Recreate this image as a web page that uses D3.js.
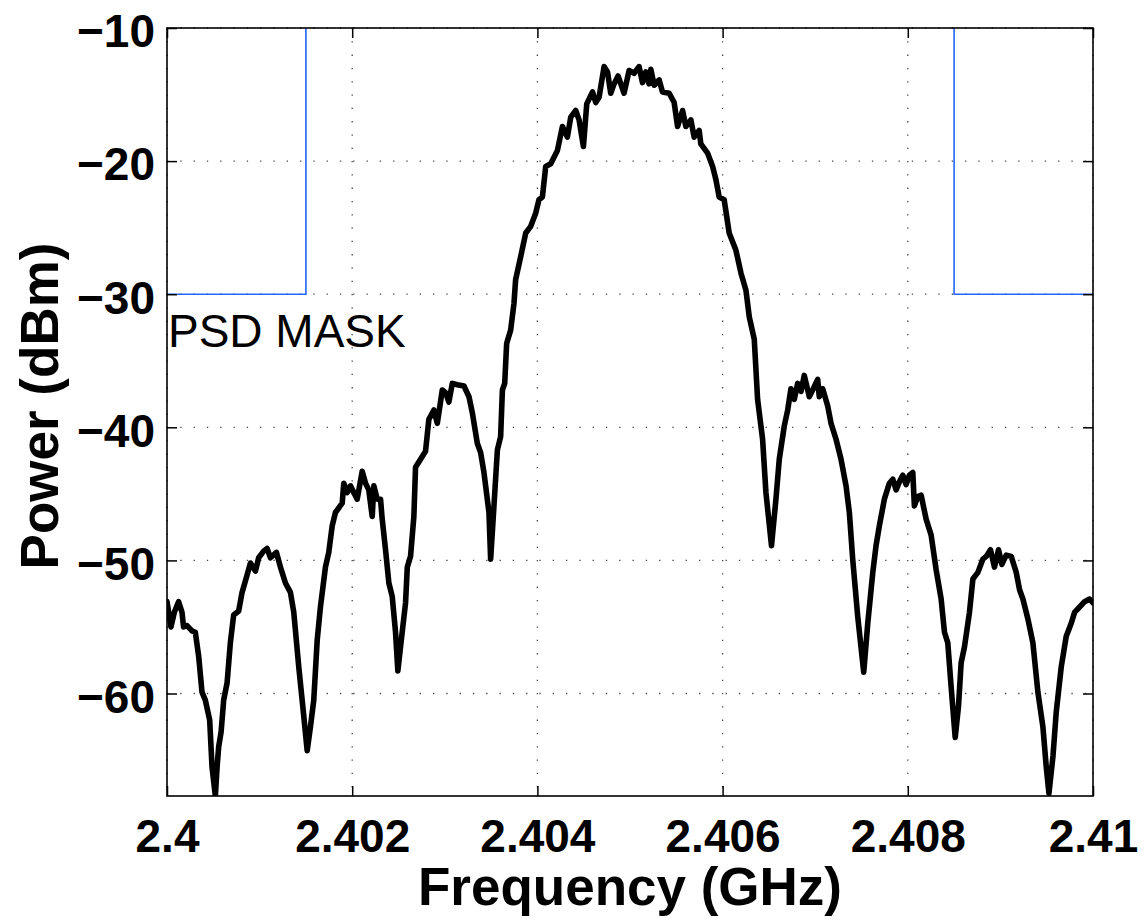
<!DOCTYPE html>
<html>
<head>
<meta charset="utf-8">
<script src="https://cdn.jsdelivr.net/npm/d3@7"></script>
<style>
  html, body { margin: 0; padding: 0; background: #fff; }
  svg { display: block; font-family: "Liberation Sans", Arial, Helvetica, sans-serif; }
</style>
</head>
<body>
<svg id="chart" width="1145" height="920"></svg>
<script>
// Measured power spectral density of the transmitted signal
const freqGHz = [
  2.400000, 2.400043, 2.400079, 2.400125, 2.400162, 2.400179, 2.400216, 2.400270, 2.400306, 2.400342,
  2.400378, 2.400414, 2.400461, 2.400486, 2.400522, 2.400541, 2.400558, 2.400584, 2.400612, 2.400649,
  2.400684, 2.400720, 2.400774, 2.400811, 2.400865, 2.400901, 2.400955, 2.400990, 2.401044, 2.401081,
  2.401117, 2.401182, 2.401225, 2.401279, 2.401333, 2.401369, 2.401423, 2.401477, 2.401514, 2.401549,
  2.401585, 2.401622, 2.401657, 2.401711, 2.401747, 2.401784, 2.401819, 2.401892, 2.401909, 2.401946,
  2.401982, 2.402017, 2.402054, 2.402108, 2.402144, 2.402179, 2.402216, 2.402234, 2.402270, 2.402306,
  2.402324, 2.402360, 2.402396, 2.402432, 2.402468, 2.402493, 2.402530, 2.402576, 2.402595, 2.402630,
  2.402666, 2.402684, 2.402738, 2.402792, 2.402828, 2.402882, 2.402919, 2.402973, 2.403009, 2.403044,
  2.403081, 2.403135, 2.403207, 2.403261, 2.403297, 2.403351, 2.403387, 2.403423, 2.403441, 2.403477,
  2.403495, 2.403531, 2.403568, 2.403603, 2.403622, 2.403647, 2.403668, 2.403711, 2.403747, 2.403765,
  2.403819, 2.403874, 2.403928, 2.403982, 2.404017, 2.404054, 2.404090, 2.404144, 2.404216, 2.404270,
  2.404324, 2.404360, 2.404414, 2.404450, 2.404497, 2.404533, 2.404595, 2.404630, 2.404666, 2.404720,
  2.404757, 2.404792, 2.404828, 2.404871, 2.404936, 2.404990, 2.405044, 2.405098, 2.405135, 2.405171,
  2.405206, 2.405225, 2.405261, 2.405315, 2.405351, 2.405423, 2.405477, 2.405514, 2.405568, 2.405603,
  2.405657, 2.405693, 2.405747, 2.405765, 2.405838, 2.405892, 2.405928, 2.405963, 2.406017, 2.406071,
  2.406144, 2.406198, 2.406252, 2.406288, 2.406342, 2.406378, 2.406432, 2.406468, 2.406528, 2.406576,
  2.406612, 2.406666, 2.406703, 2.406738, 2.406774, 2.406811, 2.406847, 2.406882, 2.406936, 2.406973,
  2.407027, 2.407044, 2.407081, 2.407135, 2.407171, 2.407225, 2.407279, 2.407333, 2.407369, 2.407405,
  2.407459, 2.407524, 2.407568, 2.407622, 2.407657, 2.407693, 2.407747, 2.407801, 2.407838, 2.407874,
  2.407909, 2.407946, 2.407982, 2.408017, 2.408054, 2.408071, 2.408108, 2.408144, 2.408198, 2.408252,
  2.408306, 2.408360, 2.408396, 2.408432, 2.408468, 2.408512, 2.408547, 2.408576, 2.408612, 2.408666,
  2.408703, 2.408757, 2.408811, 2.408847, 2.408893, 2.408936, 2.408980, 2.409016, 2.409063, 2.409117,
  2.409171, 2.409207, 2.409243, 2.409297, 2.409351, 2.409405, 2.409459, 2.409495, 2.409524, 2.409568,
  2.409603, 2.409657, 2.409711, 2.409766, 2.409801, 2.409855, 2.409909, 2.409963, 2.410000
];

const powerDBm = [
  -53.1, -55.0, -53.9, -53.1, -53.9, -55.0, -54.9, -55.3, -55.4, -57.2,
  -59.9, -60.5, -62.0, -65.5, -67.7, -65.5, -64.0, -62.9, -60.5, -59.2,
  -56.2, -54.1, -53.8, -52.4, -51.1, -50.2, -50.8, -49.8, -49.3, -49.1,
  -49.8, -49.4, -50.5, -51.7, -52.4, -53.9, -58.0, -61.7, -64.3, -62.5,
  -60.5, -56.0, -53.5, -50.5, -49.4, -47.4, -46.4, -45.7, -44.2, -44.9,
  -44.4, -44.9, -45.4, -43.3, -44.2, -44.7, -46.7, -44.4, -45.4, -45.4,
  -46.9, -49.2, -51.7, -52.7, -55.4, -58.3, -56.0, -53.2, -50.5, -49.7,
  -46.7, -43.0, -42.4, -41.8, -39.4, -38.7, -39.7, -37.2, -37.4, -38.1,
  -36.7, -36.8, -36.9, -37.7, -38.9, -41.2, -41.9, -43.4, -44.4, -46.4,
  -49.9, -45.9, -41.7, -40.7, -37.2, -36.7, -33.7, -32.7, -30.7, -28.9,
  -27.2, -25.4, -24.9, -23.9, -22.9, -22.7, -20.4, -20.2, -19.2, -17.4,
  -18.2, -16.7, -16.2, -16.9, -18.9, -15.7, -14.8, -15.6, -15.2, -12.9,
  -13.3, -14.9, -14.2, -13.6, -14.9, -13.2, -13.4, -12.9, -14.1, -13.3,
  -14.2, -13.1, -14.3, -13.9, -14.8, -14.9, -15.6, -17.4, -16.2, -17.4,
  -16.9, -18.2, -17.7, -18.7, -19.4, -20.4, -21.4, -22.7, -22.9, -25.4,
  -26.7, -28.4, -29.7, -31.7, -33.4, -37.9, -40.9, -44.9, -48.9, -45.4,
  -42.4, -39.9, -38.7, -37.1, -37.9, -36.7, -37.3, -36.1, -37.7, -37.2,
  -36.4, -37.7, -37.1, -38.4, -39.7, -40.9, -42.4, -44.4, -46.4, -49.9,
  -54.2, -58.4, -54.7, -50.9, -48.9, -47.4, -45.4, -44.2, -43.9, -44.7,
  -44.1, -43.6, -44.3, -43.6, -43.4, -45.9, -45.2, -45.1, -46.9, -48.1,
  -50.7, -52.9, -55.4, -56.2, -59.5, -63.3, -61.0, -57.7, -56.5, -53.9,
  -51.4, -50.9, -49.9, -49.7, -49.2, -50.5, -49.2, -50.3, -49.6, -49.7,
  -50.9, -52.2, -52.9, -54.4, -56.2, -59.9, -62.5, -65.5, -67.5, -64.7,
  -61.4, -58.0, -55.7, -54.7, -53.9, -53.5, -53.1, -52.9, -53.2
];

// Spectral emission mask (limit line)
const maskFreqGHz = [2.4, 2.4015, 2.4015, 2.4085, 2.4085, 2.41];
const maskPowerDBm = [-30, -30, 0, 0, -30, -30];

// Axis ticks
const xTickValues = [2.4, 2.402, 2.404, 2.406, 2.408, 2.41];
const xTickLabels = ["2.4", "2.402", "2.404", "2.406", "2.408", "2.41"];
const yTickValues = [-60, -50, -40, -30, -20, -10];
const yTickLabels = ["\u221260", "\u221250", "\u221240", "\u221230", "\u221220", "\u221210"];

const svg = d3.select("#chart");
const margin = { left: 167, top: 28, right: 52, bottom: 124 };
const W = 1145 - margin.left - margin.right;
const H = 920 - margin.top - margin.bottom;

const x = d3.scaleLinear().domain([2.4, 2.41]).range([0, W]);
const y = d3.scaleLinear().domain([d3.min(powerDBm), -10]).range([H, 0]);

const g = svg.append("g").attr("transform", `translate(${margin.left},${margin.top})`);

g.append("defs").append("clipPath").attr("id", "plot-clip")
  .append("rect").attr("x", 0).attr("y", 0).attr("width", W).attr("height", H);

// dotted grid
const grid = g.append("g").attr("class", "grid")
  .attr("stroke", "#444").attr("stroke-width", 1.3).attr("stroke-dasharray", "1.3,12");
grid.selectAll("line.v").data(xTickValues).join("line").attr("class", "v")
  .attr("x1", d => x(d)).attr("x2", d => x(d)).attr("y1", 0).attr("y2", H);
grid.selectAll("line.h").data(yTickValues).join("line").attr("class", "h")
  .attr("x1", 0).attr("x2", W).attr("y1", d => y(d)).attr("y2", d => y(d));

// traces
const plot = g.append("g").attr("clip-path", "url(#plot-clip)");

const maskPts = maskFreqGHz.map((f, i) => [f, maskPowerDBm[i]]);
plot.append("path").datum(maskPts)
  .attr("fill", "none").attr("stroke", "#2266ff").attr("stroke-width", 1.6)
  .attr("d", d3.line().x(d => x(d[0])).y(d => y(d[1])));

const psdPts = freqGHz.map((f, i) => [f, powerDBm[i]]);
plot.append("path").datum(psdPts)
  .attr("fill", "none").attr("stroke", "#000").attr("stroke-width", 5.6)
  .attr("stroke-linejoin", "round").attr("stroke-linecap", "round")
  .attr("d", d3.line().x(d => x(d[0])).y(d => y(d[1])));

// axes with inward ticks
const tickFont = (sel) => sel.selectAll("text")
  .attr("font-size", 46).attr("font-weight", "bold").attr("fill", "#000")
  .attr("font-family", "Liberation Sans, Arial, sans-serif");

const xAxisB = g.append("g").attr("transform", `translate(0,${H})`)
  .call(d3.axisBottom(x).tickValues(xTickValues).tickFormat((d, i) => xTickLabels[i])
    .tickSizeInner(-10).tickSizeOuter(0).tickPadding(23));
xAxisB.call(tickFont);

const xAxisT = g.append("g")
  .call(d3.axisTop(x).tickValues(xTickValues).tickFormat("")
    .tickSizeInner(-10).tickSizeOuter(0));

const yAxisL = g.append("g")
  .call(d3.axisLeft(y).tickValues(yTickValues).tickFormat((d, i) => yTickLabels[i])
    .tickSizeInner(-10).tickSizeOuter(0).tickPadding(12));
yAxisL.call(tickFont);
yAxisL.selectAll("text").attr("dy", "0.41em");

const yAxisR = g.append("g").attr("transform", `translate(${W},0)`)
  .call(d3.axisRight(y).tickValues(yTickValues).tickFormat("")
    .tickSizeInner(-10).tickSizeOuter(0));

[xAxisB, xAxisT, yAxisL, yAxisR].forEach(a => {
  a.select(".domain").remove();
  a.selectAll(".tick line").attr("stroke", "#000").attr("stroke-width", 1.5);
});

// frame
g.append("rect").attr("x", 0).attr("y", 0).attr("width", W).attr("height", H)
  .attr("fill", "none").attr("stroke", "#000").attr("stroke-width", 1.6);

// annotation
g.append("text").attr("x", 1).attr("y", 319)
  .attr("font-size", 46).attr("fill", "#000")
  .text("PSD MASK");

// axis titles
svg.append("text")
  .attr("x", margin.left + W / 2).attr("y", 905)
  .attr("text-anchor", "middle").attr("font-size", 53).attr("font-weight", "bold")
  .text("Frequency (GHz)");

svg.append("text")
  .attr("transform", "translate(58,406) rotate(-90)")
  .attr("text-anchor", "middle").attr("font-size", 53).attr("font-weight", "bold")
  .text("Power (dBm)");
</script>
</body>
</html>
